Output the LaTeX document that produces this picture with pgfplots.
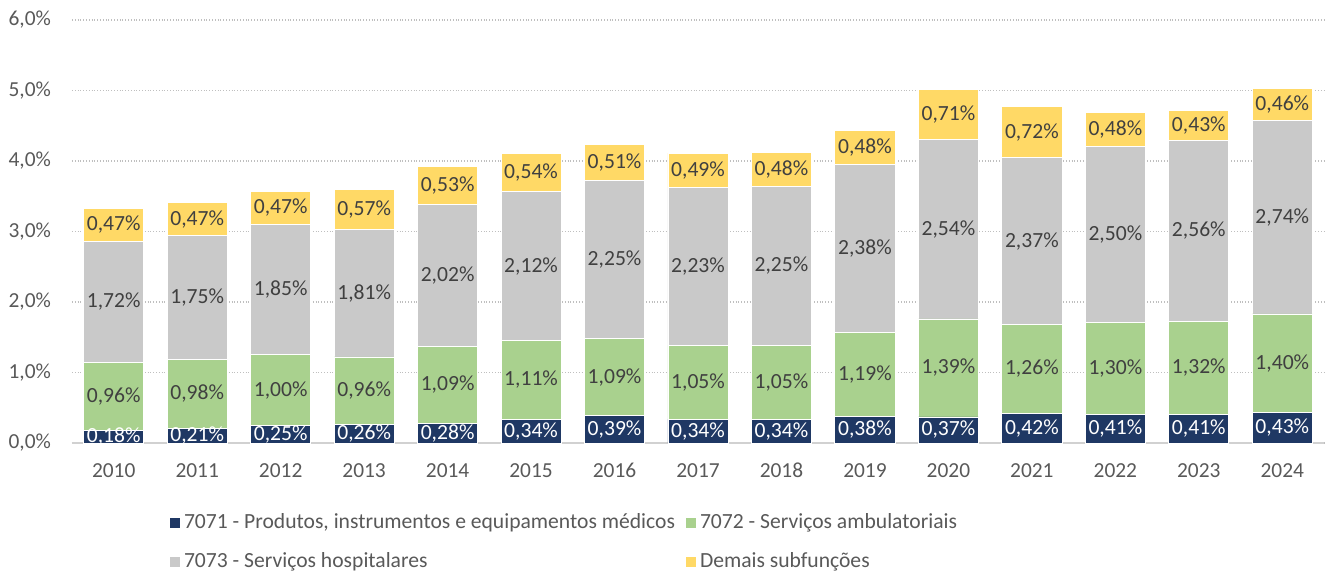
\documentclass[border=0pt]{standalone}
\usepackage{pgfplots}
\pgfplotsset{compat=1.18}
\usepackage{pgfplotstable}
\usepackage{fontspec}
\setmainfont{Carlito}
\definecolor{c1}{HTML}{1F3864}
\definecolor{c2}{HTML}{A9D18E}
\definecolor{c3}{HTML}{C9C9C9}
\definecolor{c4}{HTML}{FFD966}
\definecolor{tx}{HTML}{595959}
\definecolor{lb}{HTML}{404040}
\pgfplotstableread{
year a b c d
2010 0.18 0.96 1.72 0.47
2011 0.21 0.98 1.75 0.47
2012 0.25 1.00 1.85 0.47
2013 0.26 0.96 1.81 0.57
2014 0.28 1.09 2.02 0.53
2015 0.34 1.11 2.12 0.54
2016 0.39 1.09 2.25 0.51
2017 0.34 1.05 2.23 0.49
2018 0.34 1.05 2.25 0.48
2019 0.38 1.19 2.38 0.48
2020 0.37 1.39 2.54 0.71
2021 0.42 1.26 2.37 0.72
2022 0.41 1.30 2.50 0.48
2023 0.41 1.32 2.56 0.43
2024 0.43 1.40 2.74 0.46
}\data
\newcommand{\fs}{\fontsize{10.7}{12.5}\selectfont}
\newcommand{\fl}{\fontsize{10.8}{12.5}\selectfont}
\begin{document}
\begin{tikzpicture}
\pgfplotsset{base/.style={
  scale only axis, width=626pt, height=211.5pt,
  xmin=-0.5, xmax=14.5, ymin=0, ymax=6,
  /pgf/number format/assume math mode=true,
}}
\begin{axis}[base, ybar stacked, bar width=0.72,
  axis x line*=bottom, axis y line*=left,
  x axis line style={draw=black!18, line width=0.9pt},
  y axis line style={draw=none},
  major tick length=0pt,
  xtick={0,...,14},
  xticklabels={2010,2011,2012,2013,2014,2015,2016,2017,2018,2019,2020,2021,2022,2023,2024},
  ytick={0,1,2,3,4,5,6},
  yticklabel={\pgfmathprintnumber[fixed,fixed zerofill,precision=1,use comma]{\tick}\%},
  ymajorgrids, grid style={densely dotted, black!25, line width=0.8pt},
  ticklabel style={font=\fs, text=tx},
  xticklabel style={yshift=-6pt, text height=7.5pt, text depth=1pt},
  yticklabel style={xshift=-7pt},
  legend columns=2,
  legend cell align=left,
  legend style={at={(0.0783,-0.158)}, anchor=north west, draw=none, inner sep=0pt, outer sep=0pt,
    font=\fl, text=tx, row sep=6.5pt,
    /tikz/every even column/.append style={column sep=3.5pt}},
  legend image code/.code={\fill[#1, draw=none] (0pt,-2.5pt) rectangle (5pt,2.5pt);},
]
\addplot[fill=c1, draw=white, line width=0.4pt] table[x expr=\coordindex, y=a]{\data};
\addlegendentry{7071 - Produtos, instrumentos e equipamentos médicos}
\addplot[fill=c2, draw=white, line width=0.4pt] table[x expr=\coordindex, y=b]{\data};
\addlegendentry{7072 - Serviços ambulatoriais}
\addplot[fill=c3, draw=white, line width=0.4pt] table[x expr=\coordindex, y=c]{\data};
\addlegendentry{7073 - Serviços hospitalares}
\addplot[fill=c4, draw=white, line width=0.4pt] table[x expr=\coordindex, y=d]{\data};
\addlegendentry{Demais subfunções}
\end{axis}
\begin{axis}[base, hide axis,
  nodes near coords={\pgfmathprintnumber[fixed,fixed zerofill,precision=2,use comma]{\pgfplotspointmeta}\%},
  nodes near coords align=center,
  point meta=explicit,
  every node near coord/.append style={font=\fl, text=lb},
]
\addplot[draw=none, mark=none, every node near coord/.append style={text=white}] table[x expr=\coordindex, y expr=\thisrow{a}/2, meta=a]{\data};
\addplot[draw=none, mark=none] table[x expr=\coordindex, y expr=\thisrow{a}+\thisrow{b}/2, meta=b]{\data};
\addplot[draw=none, mark=none] table[x expr=\coordindex, y expr=\thisrow{a}+\thisrow{b}+\thisrow{c}/2, meta=c]{\data};
\addplot[draw=none, mark=none] table[x expr=\coordindex, y expr=\thisrow{a}+\thisrow{b}+\thisrow{c}+\thisrow{d}/2, meta=d]{\data};
\end{axis}
\pgfresetboundingbox
\path[use as bounding box] ([xshift=-36pt,yshift=-65pt]current axis.south west) rectangle ([xshift=0.5pt,yshift=10pt]current axis.north east);
\end{tikzpicture}
\end{document}
